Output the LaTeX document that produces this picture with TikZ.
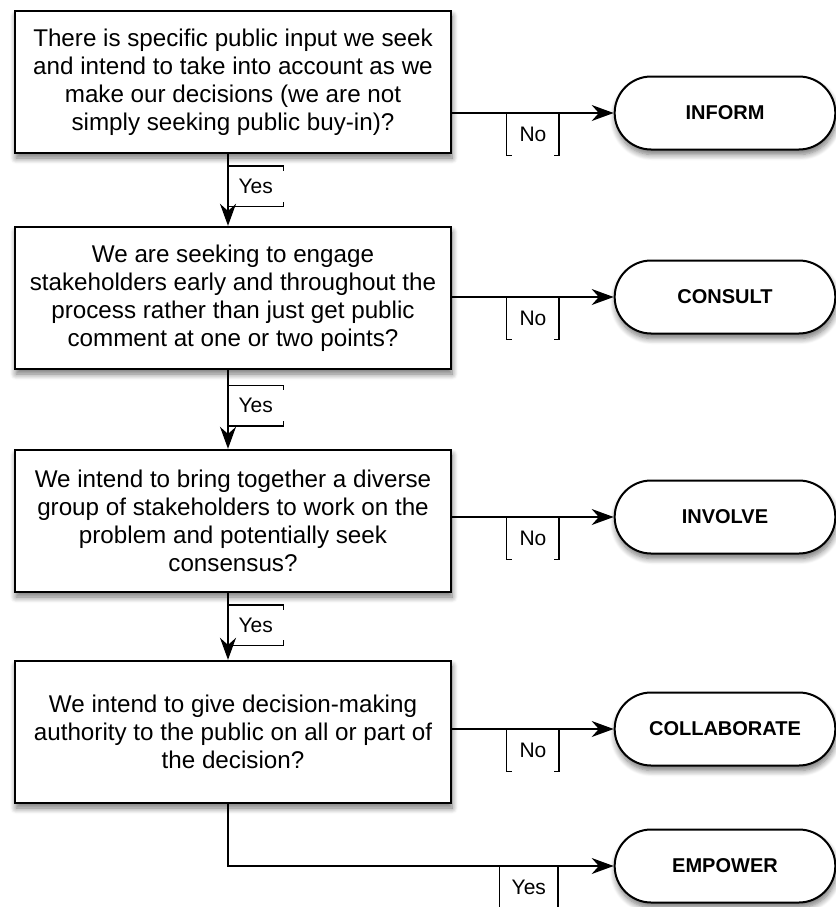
\documentclass[tikz,border=0pt]{standalone}
\usepackage{fontspec}
\setmainfont{Liberation Sans}
\usetikzlibrary{arrows.meta,shapes.misc,shadows.blur}

\tikzset{
  question/.style={rectangle, draw, line width=1.2pt, fill=white, minimum width=218pt, minimum height=71pt, align=center, font=\fontsize{12.1}{14}\selectfont, blur shadow={shadow xshift=0.5pt, shadow yshift=-2.5pt, shadow blur radius=3pt, shadow blur steps=8, shadow opacity=55}},
  outcome/.style={rounded rectangle, draw, line width=1pt, fill=white, minimum width=117pt, minimum height=36.5pt, font=\fontsize{10}{12}\selectfont\bfseries, blur shadow={shadow xshift=0.5pt, shadow yshift=-2.5pt, shadow blur radius=3pt, shadow blur steps=8, shadow opacity=55}},
  answer/.style={inner sep=0pt, minimum width=25.5pt, minimum height=20.5pt, font=\fontsize{10.5}{12}\selectfont},
  flow/.style={line width=0.75pt, -{Stealth[length=11pt,width=8pt]}}
}

\newcommand{\sidebrackets}[1]{%
  \draw[line width=0.75pt] ([xshift=2.5pt]#1.north west) -- (#1.north west) -- (#1.south west) -- ([xshift=2.5pt]#1.south west);
  \draw[line width=0.75pt] ([xshift=-2.5pt]#1.north east) -- (#1.north east) -- (#1.south east) -- ([xshift=-2.5pt]#1.south east);}
\newcommand{\capbrackets}[1]{%
  \draw[line width=0.75pt] ([yshift=-2.5pt]#1.north west) -- (#1.north west) -- (#1.north east) -- ([yshift=-2.5pt]#1.north east);
  \draw[line width=0.75pt] ([yshift=2.5pt]#1.south west) -- (#1.south west) -- (#1.south east) -- ([yshift=2.5pt]#1.south east);}

\begin{document}
\begin{tikzpicture}[x=0.5pt, y=-0.5pt]
  \useasboundingbox (0,0) rectangle (836,907);
  \clip (0,0) rectangle (836,907);
  \node (q1) [question] at (233,82) {There is specific public input we seek\\and intend to take into account as we\\make our decisions (we are not\\simply seeking public buy-in)?};
  \node (q2) [question] at (233,298) {We are seeking to engage\\stakeholders early and throughout the\\process rather than just get public\\comment at one or two points?};
  \node (q3) [question] at (233,521) {We intend to bring together a diverse\\group of stakeholders to work on the\\problem and potentially seek\\consensus?};
  \node (q4) [question] at (233,732) {We intend to give decision-making\\authority to the public on all or part of\\the decision?};
  \node (inform) [outcome] at (725,113) {INFORM};
  \node (consult) [outcome] at (725,297) {CONSULT};
  \node (involve) [outcome] at (725,517) {INVOLVE};
  \node (collaborate) [outcome] at (725,729) {COLLABORATE};
  \node (empower) [outcome] at (725,866) {EMPOWER};
  \draw[flow] ([xshift=-2.5pt]q1.south) -- node (yes1) [answer, minimum width=27pt, minimum height=19.5pt, pos=0.45, anchor=west] {Yes} ([xshift=-2.5pt]q2.north);
  \draw[flow] ([xshift=-2.5pt]q2.south) -- node (yes2) [answer, minimum width=27pt, minimum height=19.5pt, pos=0.45, anchor=west] {Yes} ([xshift=-2.5pt]q3.north);
  \draw[flow] ([xshift=-2.5pt]q3.south) -- node (yes3) [answer, minimum width=27pt, minimum height=19.5pt, pos=0.48, anchor=west] {Yes} ([xshift=-2.5pt]q4.north);
  \draw[flow] ([xshift=-2.5pt]q4.south) |- node (yes4) [answer, minimum width=28.5pt, pos=0.89, anchor=north] {Yes} (empower.west);
  \draw[flow] (q1.east |- inform.west) -- node (no1) [answer, midway, anchor=north] {No} (inform.west);
  \draw[flow] (q2.east |- consult.west) -- node (no2) [answer, midway, anchor=north] {No} (consult.west);
  \draw[flow] (q3.east |- involve.west) -- node (no3) [answer, midway, anchor=north] {No} (involve.west);
  \draw[flow] (q4.east |- collaborate.west) -- node (no4) [answer, midway, anchor=north] {No} (collaborate.west);
  \capbrackets{yes1}
  \capbrackets{yes2}
  \capbrackets{yes3}
  \sidebrackets{yes4}
  \sidebrackets{no1}
  \sidebrackets{no2}
  \sidebrackets{no3}
  \sidebrackets{no4}
\end{tikzpicture}
\end{document}
